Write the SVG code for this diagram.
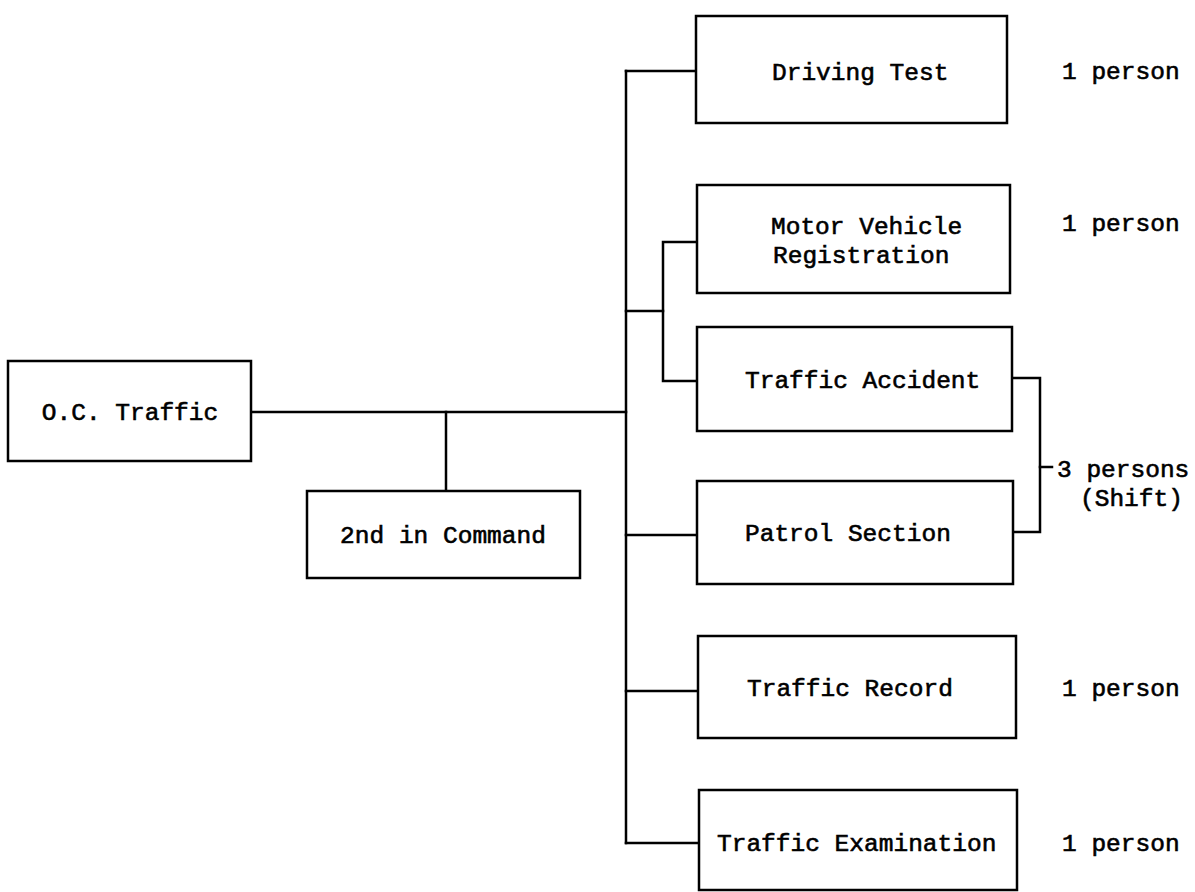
<svg xmlns="http://www.w3.org/2000/svg" width="1195" height="892" viewBox="0 0 1195 892">
  <style>
    .box { fill: #fff; stroke: #000; stroke-width: 2.5; }
    .wire { fill: none; stroke: #000; stroke-width: 2.5; stroke-linecap: square; }
    .lbl { font-family: "Liberation Mono", "Courier New", monospace; font-size: 24.5px; fill: #000; stroke: #000; stroke-width: 0.6; }
    .mid { text-anchor: middle; }
  </style>
  <rect width="1195" height="892" fill="#fff"/>

  <!-- connectors -->
  <g id="connectors" class="wire">
    <!-- O.C. Traffic to main trunk, with drop to 2nd in Command -->
    <path d="M251 412 H626"/>
    <path d="M446 412 V491"/>
    <!-- main trunk -->
    <path d="M626 71 V843"/>
    <path d="M626 71 H696"/>
    <!-- sub-bracket for registration / accident -->
    <path d="M626 311 H663"/>
    <path d="M697 242 H663 V381 H697"/>
    <path d="M626 535 H697"/>
    <path d="M626 691 H698"/>
    <path d="M626 843 H699"/>
    <!-- shift bracket -->
    <path d="M1012 378 H1040 V532 H1013"/>
    <path d="M1040 467 H1052"/>
  </g>

  <g id="oc-traffic">
    <rect class="box" x="8" y="361" width="243" height="100"/>
    <text class="lbl mid" x="130" y="420">O.C. Traffic</text>
  </g>

  <g id="second-in-command">
    <rect class="box" x="307" y="491" width="273" height="87"/>
    <text class="lbl mid" x="443" y="543">2nd in Command</text>
  </g>

  <g id="driving-test">
    <rect class="box" x="696" y="16" width="311" height="107"/>
    <text class="lbl" x="772" y="80">Driving Test</text>
    <text class="lbl" x="1062" y="79">1 person</text>
  </g>

  <g id="motor-vehicle-registration">
    <rect class="box" x="697" y="185" width="313" height="108"/>
    <text class="lbl" x="771" y="234">Motor Vehicle</text>
    <text class="lbl" x="773" y="263">Registration</text>
    <text class="lbl" x="1062" y="231">1 person</text>
  </g>

  <g id="traffic-accident">
    <rect class="box" x="697" y="327" width="315" height="104"/>
    <text class="lbl" x="745" y="388">Traffic Accident</text>
  </g>

  <g id="patrol-section">
    <rect class="box" x="697" y="481" width="316" height="103"/>
    <text class="lbl" x="745" y="541">Patrol Section</text>
  </g>

  <g id="shift-note">
    <text class="lbl" x="1057" y="477">3 persons</text>
    <text class="lbl" x="1080" y="506">(Shift)</text>
  </g>

  <g id="traffic-record">
    <rect class="box" x="698" y="636" width="318" height="102"/>
    <text class="lbl" x="747" y="696">Traffic Record</text>
    <text class="lbl" x="1062" y="696">1 person</text>
  </g>

  <g id="traffic-examination">
    <rect class="box" x="699" y="790" width="318" height="100"/>
    <text class="lbl" x="717" y="851">Traffic Examination</text>
    <text class="lbl" x="1062" y="851">1 person</text>
  </g>
</svg>
